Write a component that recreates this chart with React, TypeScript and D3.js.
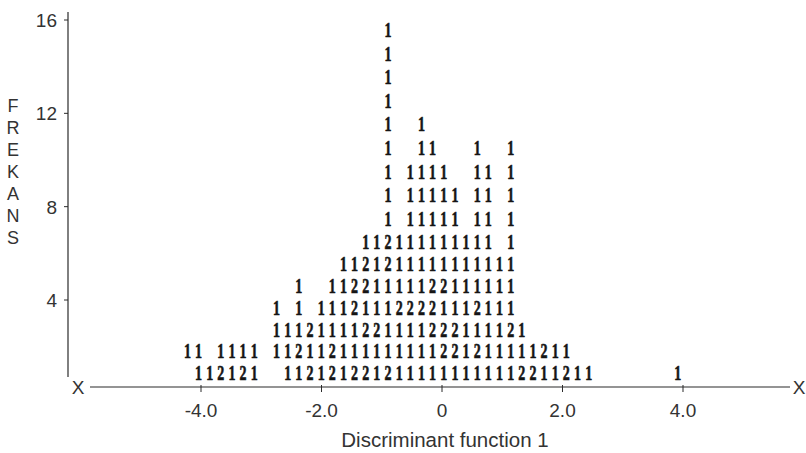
import { useEffect, useRef } from 'react';
import * as d3 from 'd3';

// axis ticks
const xTicks = [-4, -2, 0, 2, 4];
const yTicks = [4, 8, 12, 16];
const yTitle = ['F', 'R', 'E', 'K', 'A', 'N', 'S'];

// histogram columns: first column centre and column width, in function units
const firstColumn = -4.226;
const columnWidth = 0.185;

// one printed line per frequency level: level, first column index, symbols (space = empty cell)
const rowLevels = [1, 2, 3, 4, 5, 6, 7, 8, 9, 10, 11, 12, 13, 14, 15, 16];
const rowStarts = [1, 0, 8, 8, 10, 14, 16, 18, 18, 18, 18, 18, 18, 18, 18, 18];
const rowSymbols = [
  '112121  1121212212111111111112211211       1',
  '11 1111 112112111111111221211111211',
  '11121111221111222111121',
  '1 1 111211122221112111',
  '1  11221111122111111',
  '1121211111111111',
  '112111111111 1',
  '1 11111 11 1',
  '1 11111 11 1',
  '1 1111  11 1',
  '1  11   1  1',
  '1  1',
  '1',
  '1',
  '1',
  '1',
];

export default function App() {
  const ref = useRef<SVGSVGElement>(null);

  useEffect(() => {
    const svg = d3.select(ref.current);
    svg.selectAll('*').remove();

    const x = d3.scaleLinear().domain([-4, 4]).range([201, 683]);
    const y = d3.scaleLinear().domain([4, 16]).range([300, 20]);
    // printed lines are spaced a little tighter near the base than the axis units
    const line = d3.scaleLinear().domain([1, 7, 16]).range([373, 242, 30]);
    const axisY = 387;
    const ink = '#2b2b2b';
    const sans = '"Liberation Sans", Arial, sans-serif';

    // y axis
    svg.append('line')
      .attr('x1', 68).attr('x2', 68).attr('y1', 12).attr('y2', 377)
      .attr('stroke', ink).attr('stroke-width', 1.2);
    const yt = svg.append('g').selectAll('g').data(yTicks).enter().append('g');
    yt.append('line')
      .attr('x1', 64).attr('x2', 68)
      .attr('y1', d => y(d)).attr('y2', d => y(d))
      .attr('stroke', ink).attr('stroke-width', 1);
    yt.append('text')
      .attr('x', 57).attr('y', d => y(d))
      .attr('dy', '0.36em')
      .attr('text-anchor', 'end')
      .attr('font-family', sans).attr('font-size', 19)
      .attr('fill', '#333')
      .text(d => d);

    svg.append('g').selectAll('text').data(yTitle).enter().append('text')
      .attr('x', 13).attr('y', (d, i) => 106 + i * 22)
      .attr('dy', '0.36em')
      .attr('text-anchor', 'middle')
      .attr('font-family', sans).attr('font-size', 18)
      .attr('fill', '#333')
      .text(d => d);

    // x axis
    svg.append('line')
      .attr('x1', 90).attr('x2', 790).attr('y1', axisY).attr('y2', axisY)
      .attr('stroke', ink).attr('stroke-width', 1.2);
    svg.append('text')
      .attr('x', 78).attr('y', axisY).attr('dy', '0.36em')
      .attr('text-anchor', 'middle')
      .attr('font-family', sans).attr('font-size', 19).attr('fill', '#333')
      .text('X');
    svg.append('text')
      .attr('x', 799).attr('y', axisY).attr('dy', '0.36em')
      .attr('text-anchor', 'middle')
      .attr('font-family', sans).attr('font-size', 19).attr('fill', '#333')
      .text('X');
    const xt = svg.append('g').selectAll('g').data(xTicks).enter().append('g');
    xt.append('line')
      .attr('x1', d => x(d)).attr('x2', d => x(d))
      .attr('y1', axisY - 2).attr('y2', axisY + 5)
      .attr('stroke', ink).attr('stroke-width', 1);
    xt.append('text')
      .attr('x', d => x(d)).attr('y', 410).attr('dy', '0.36em')
      .attr('text-anchor', 'middle')
      .attr('font-family', sans).attr('font-size', 19).attr('fill', '#333')
      .text(d => (d === 0 ? '0' : d.toFixed(1)));
    svg.append('text')
      .attr('x', 445).attr('y', 440).attr('dy', '0.36em')
      .attr('text-anchor', 'middle')
      .attr('font-family', sans).attr('font-size', 20.5).attr('fill', '#333')
      .text('Discriminant function 1');

    // printed symbols, one per case
    const cells: { level: number; col: number; ch: string }[] = [];
    rowLevels.forEach((level, r) => {
      rowSymbols[r].split('').forEach((ch, i) => {
        if (ch !== ' ') cells.push({ level, col: rowStarts[r] + i, ch });
      });
    });

    svg.append('g').selectAll('text').data(cells).enter().append('text')
      .attr('transform', d =>
        `translate(${x(firstColumn + d.col * columnWidth)},${line(d.level)}) scale(0.7,1)`)
      .attr('dy', '0.36em')
      .attr('text-anchor', 'middle')
      .attr('font-family', '"Liberation Serif", "DejaVu Serif", serif')
      .attr('font-weight', 'bold')
      .attr('font-size', 20)
      .attr('fill', '#151515')
      .attr('stroke', '#151515')
      .attr('stroke-width', 0.6)
      .text(d => d.ch);
  }, []);

  return (
    <svg ref={ref} width={806} height={453} style={{ position: 'absolute', left: 0, top: 0, background: '#fff' }} />
  );
}
